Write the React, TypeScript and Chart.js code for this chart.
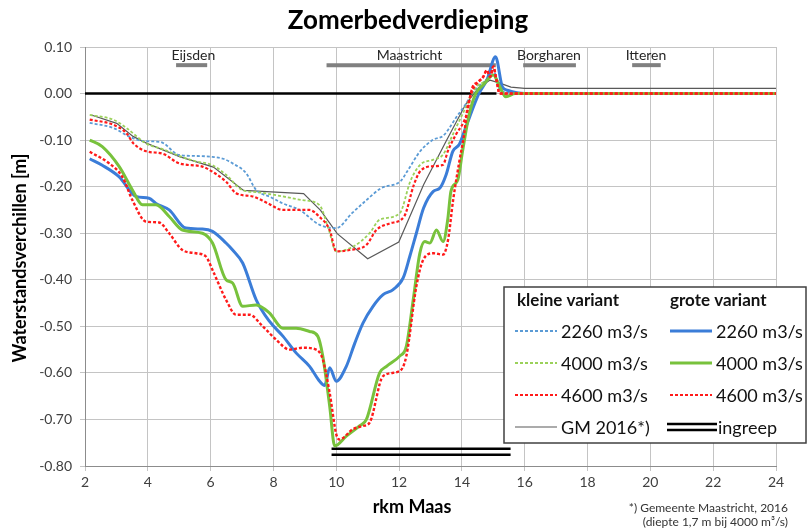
import React, { useEffect, useRef } from "react";
import { Chart, registerables } from "chart.js";
Chart.register(...registerables);

const FONT = "Lato, 'Open Sans', 'DejaVu Sans', sans-serif";

// ---- data (rkm Maas -> waterstandsverschil [m]) ----
const kleine2260Km = [2.15, 2.9, 3.4, 3.85, 4.4, 5.0, 5.5, 6.06, 6.4, 6.7, 7.13, 7.45, 7.9, 8.3, 8.83, 9.47, 10.0, 10.5, 10.96, 11.43, 12.05, 12.26, 12.67, 13.09, 13.4, 13.61, 13.81, 14.12, 14.33, 14.6, 14.8, 15.0, 15.2, 15.5, 16, 18, 20, 22, 24];
const kleine2260 = [-0.063, -0.074, -0.092, -0.102, -0.104, -0.132, -0.134, -0.136, -0.14, -0.15, -0.171, -0.207, -0.222, -0.236, -0.25, -0.282, -0.289, -0.257, -0.229, -0.203, -0.188, -0.167, -0.124, -0.099, -0.091, -0.073, -0.052, -0.023, -0.001, 0.02, 0.03, 0.05, 0.01, 0.002, 0.0, 0.0, 0.0, 0.0, 0.0];

const kleine4000Km = [2.15, 2.9, 3.32, 3.94, 4.5, 5.0, 5.5, 6.06, 6.5, 7.0, 7.5, 8.3, 8.94, 9.47, 9.75, 10.0, 10.53, 11.06, 11.38, 12.02, 12.36, 12.67, 13.09, 13.4, 13.71, 14.12, 14.44, 14.7, 15.0, 15.2, 15.4, 15.7, 16, 18, 20, 22, 24];
const kleine4000 = [-0.046, -0.056, -0.074, -0.107, -0.12, -0.134, -0.145, -0.154, -0.175, -0.207, -0.212, -0.221, -0.229, -0.24, -0.29, -0.339, -0.329, -0.3, -0.271, -0.257, -0.188, -0.153, -0.142, -0.131, -0.088, -0.03, 0.013, 0.025, 0.04, 0.02, -0.005, 0.0, 0.0, 0.0, 0.0, 0.0, 0.0];

const kleine4600Km = [2.15, 2.9, 3.32, 3.53, 3.95, 4.47, 5.0, 5.74, 6.06, 6.5, 6.81, 7.34, 7.8, 8.3, 8.83, 9.15, 9.47, 9.79, 10.0, 10.43, 10.96, 11.28, 11.7, 12.16, 12.47, 12.67, 13.09, 13.4, 13.55, 13.81, 14.07, 14.18, 14.33, 14.52, 14.68, 14.79, 14.9, 15.0, 15.1, 15.2, 15.5, 16, 18, 20, 22, 24];
const kleine4600 = [-0.056, -0.067, -0.085, -0.106, -0.124, -0.129, -0.15, -0.157, -0.168, -0.19, -0.214, -0.221, -0.235, -0.25, -0.25, -0.25, -0.265, -0.293, -0.339, -0.336, -0.325, -0.293, -0.279, -0.264, -0.196, -0.167, -0.156, -0.153, -0.124, -0.088, -0.059, -0.037, 0.013, 0.025, 0.036, 0.05, 0.036, 0.058, 0.029, 0.0, 0.0, 0.0, 0.0, 0.0, 0.0, 0.0];

const gm2016Km = [2.2, 3.01, 3.53, 3.97, 5.03, 6.09, 7.05, 8.96, 9.5, 10.03, 11.0, 11.99, 12.78, 13.5, 14.12, 14.54, 14.9, 15.23, 15.56, 16.0, 24];
const gm2016 = [-0.046, -0.064, -0.092, -0.107, -0.136, -0.158, -0.208, -0.215, -0.251, -0.301, -0.355, -0.319, -0.196, -0.102, -0.023, 0.013, 0.029, 0.022, 0.014, 0.011, 0.011];

const grote2260Km = [2.15, 2.55, 3.09, 3.62, 4.04, 4.26, 4.68, 5.21, 5.74, 6.06, 6.49, 6.7, 7.02, 7.45, 7.87, 8.3, 8.72, 9.15, 9.47, 9.63, 9.79, 10.0, 10.32, 10.59, 10.85, 11.17, 11.49, 11.81, 12.13, 12.34, 12.55, 12.78, 13.09, 13.3, 13.5, 13.71, 13.92, 14.12, 14.44, 14.54, 14.8, 15.07, 15.29, 15.45, 16, 18, 20, 22, 24];
const grote2260 = [-0.14, -0.154, -0.179, -0.221, -0.225, -0.236, -0.25, -0.289, -0.291, -0.296, -0.321, -0.336, -0.364, -0.443, -0.489, -0.521, -0.557, -0.586, -0.618, -0.627, -0.589, -0.618, -0.586, -0.536, -0.493, -0.457, -0.432, -0.421, -0.396, -0.35, -0.3, -0.246, -0.21, -0.203, -0.174, -0.124, -0.109, -0.073, -0.016, 0.0, 0.03, 0.079, 0.014, 0.007, 0.0, 0.0, 0.0, 0.0, 0.0];

const grote4000Km = [2.15, 2.55, 3.09, 3.51, 3.83, 4.26, 4.68, 5.1, 5.74, 6.06, 6.49, 6.7, 7.02, 7.45, 7.87, 8.3, 8.72, 9.15, 9.41, 9.57, 9.79, 9.95, 10.32, 10.74, 10.96, 11.38, 11.6, 12.02, 12.23, 12.45, 12.66, 12.82, 12.98, 13.19, 13.4, 13.55, 13.65, 13.87, 14.02, 14.23, 14.44, 14.7, 15.0, 15.2, 15.4, 15.7, 16, 18, 20, 22, 24];
const grote4000 = [-0.1, -0.114, -0.157, -0.207, -0.239, -0.239, -0.264, -0.293, -0.3, -0.321, -0.4, -0.407, -0.457, -0.454, -0.471, -0.504, -0.504, -0.511, -0.521, -0.564, -0.671, -0.757, -0.736, -0.714, -0.7, -0.6, -0.586, -0.564, -0.543, -0.443, -0.343, -0.318, -0.321, -0.293, -0.318, -0.27, -0.21, -0.185, -0.124, -0.045, 0.0, 0.02, 0.04, 0.015, -0.007, 0.0, 0.0, 0.0, 0.0, 0.0, 0.0];

const grote4600Km = [2.15, 2.77, 3.19, 3.51, 3.94, 4.36, 4.68, 5.1, 5.53, 5.85, 6.06, 6.49, 6.81, 7.23, 7.66, 8.09, 8.51, 8.94, 9.36, 9.57, 9.79, 10.0, 10.1, 10.53, 10.85, 11.06, 11.49, 12.02, 12.23, 12.55, 12.77, 13.09, 13.4, 13.56, 13.72, 13.92, 14.07, 14.18, 14.33, 14.52, 14.68, 14.79, 14.9, 15.0, 15.1, 15.2, 15.5, 16, 18, 20, 22, 24];
const grote4600 = [-0.125, -0.15, -0.179, -0.229, -0.275, -0.277, -0.3, -0.336, -0.343, -0.35, -0.379, -0.443, -0.475, -0.475, -0.5, -0.529, -0.55, -0.546, -0.55, -0.571, -0.643, -0.732, -0.743, -0.721, -0.714, -0.707, -0.607, -0.596, -0.564, -0.414, -0.357, -0.343, -0.346, -0.314, -0.229, -0.145, -0.088, -0.03, 0.006, 0.025, 0.036, 0.05, 0.036, 0.058, 0.029, 0.0, 0.0, 0.0, 0.0, 0.0, 0.0, 0.0];

const zeroLineKm = [2, 15.1];
const zeroLine = [0, 0];

const ingreepKm = [9.85, 15.55];
const ingreepUpper = [-0.763, -0.763];
const ingreepLower = [-0.776, -0.776];

const placeNames = ["Eijsden", "Maastricht", "Borgharen", "Itteren"];
const placeLabelKm = [5.45, 12.33, 16.77, 19.86];
const placeBarFrom = [4.9, 9.69, 15.95, 19.42];
const placeBarTo = [5.89, 15.08, 17.63, 20.33];
const placeBarLevel = 0.061;

const xTicks = { min: 2, max: 24, step: 2 };
const yTicks = { min: -0.8, max: 0.1, step: 0.1 };

const legendLeft = ["2260 m3/s", "4000 m3/s", "4600 m3/s", "GM 2016*)"];
const legendRight = ["2260 m3/s", "4000 m3/s", "4600 m3/s", "ingreep"];

function pts(xs: number[], ys: number[]) {
  return xs.map((x, i) => ({ x, y: ys[i] }));
}

const C_BLUE_L = "#5b9bd5";
const C_GREEN_L = "#9bd15a";
const C_RED = "#ff1a1a";
const C_GRAY = "#595959";
const C_BLUE = "#3b7dd8";
const C_GREEN = "#78c23c";

export default function App() {
  const ref = useRef<HTMLCanvasElement>(null);
  useEffect(() => {
    const overlay = {
      id: "overlay",
      afterDraw(chart: any) {
        const ctx = chart.ctx as CanvasRenderingContext2D;
        const xs = chart.scales.x;
        ctx.save();
        // title
        ctx.fillStyle = "#000";
        ctx.textAlign = "center";
        ctx.textBaseline = "middle";
        ctx.font = `bold 26px ${FONT}`;
        ctx.fillText("Zomerbedverdieping", 408, 21);
        // axis titles
        ctx.font = `bold 18px ${FONT}`;
        ctx.fillText("rkm Maas", 412, 507);
        ctx.save();
        ctx.translate(20, 258);
        ctx.rotate(-Math.PI / 2);
        ctx.fillText("Waterstandsverchillen [m]", 0, 0);
        ctx.restore();
        // place names
        ctx.font = `14px ${FONT}`;
        ctx.fillStyle = "#262626";
        placeNames.forEach((n, i) => {
          ctx.fillText(n, xs.getPixelForValue(placeLabelKm[i]), 55);
        });
        // footnote
        ctx.font = `12px ${FONT}`;
        ctx.fillStyle = "#333";
        ctx.textAlign = "right";
        ctx.fillText("*) Gemeente Maastricht, 2016", 788, 508);
        ctx.fillText("(diepte 1,7 m bij 4000 m\u00b3/s)", 788, 522);
        // legend box
        const bx = 504, by = 287, bw = 302, bh = 156;
        ctx.fillStyle = "#fff";
        ctx.fillRect(bx, by, bw, bh);
        ctx.strokeStyle = "#404040";
        ctx.lineWidth = 1.5;
        ctx.strokeRect(bx, by, bw, bh);
        ctx.textAlign = "left";
        ctx.fillStyle = "#111";
        ctx.font = `bold 17px ${FONT}`;
        ctx.fillText("kleine variant", 517, 301);
        ctx.fillText("grote variant", 670, 301);
        const rows = [331, 363, 395, 427];
        const leftStyles = [
          { c: C_BLUE_L, w: 1.8, d: [3, 2] },
          { c: C_GREEN_L, w: 1.8, d: [3, 2] },
          { c: C_RED, w: 2, d: [3, 2] },
          { c: C_GRAY, w: 1.2, d: [] as number[] },
        ];
        const rightStyles = [
          { c: C_BLUE, w: 3, d: [] as number[] },
          { c: C_GREEN, w: 3, d: [] as number[] },
          { c: C_RED, w: 2, d: [3, 2] },
        ];
        ctx.font = `18px ${FONT}`;
        rows.forEach((y, i) => {
          const ls = leftStyles[i];
          ctx.beginPath();
          ctx.setLineDash(ls.d);
          ctx.strokeStyle = ls.c;
          ctx.lineWidth = ls.w;
          ctx.moveTo(515, y);
          ctx.lineTo(557, y);
          ctx.stroke();
          ctx.setLineDash([]);
          ctx.fillStyle = "#111";
          ctx.fillText(legendLeft[i], 561, y + 1);
          if (i < 3) {
            const rs = rightStyles[i];
            ctx.beginPath();
            ctx.setLineDash(rs.d);
            ctx.strokeStyle = rs.c;
            ctx.lineWidth = rs.w;
            ctx.moveTo(670, y);
            ctx.lineTo(712, y);
            ctx.stroke();
            ctx.setLineDash([]);
          } else {
            ctx.strokeStyle = "#000";
            ctx.lineWidth = 2.5;
            [y - 3, y + 3].forEach((yy) => {
              ctx.beginPath();
              ctx.moveTo(667, yy);
              ctx.lineTo(717, yy);
              ctx.stroke();
            });
          }
          ctx.fillStyle = "#111";
          ctx.fillText(legendRight[i], i < 3 ? 716 : 718, y + 1);
        });
        ctx.restore();
      },
    };

    const lineDs = (label: string, xs: number[], ys: number[], color: string, width: number, dash: number[], order: number, smooth = true) => ({
      label,
      data: pts(xs, ys),
      borderColor: color,
      backgroundColor: color,
      borderWidth: width,
      borderDash: dash,
      pointRadius: 0,
      fill: false,
      order,
      tension: smooth ? 0.3 : 0,
      cubicInterpolationMode: smooth ? "monotone" : "default",
      borderCapStyle: "butt",
    });

    const datasets: any[] = [
      lineDs("zero", zeroLineKm, zeroLine, "#000", 2.5, [], 20, false),
      lineDs("ingreep1", ingreepKm, ingreepUpper, "#000", 2.5, [], 19, false),
      lineDs("ingreep2", ingreepKm, ingreepLower, "#000", 2.5, [], 19, false),
      ...placeNames.map((n, i) =>
        lineDs(n, [placeBarFrom[i], placeBarTo[i]], [placeBarLevel, placeBarLevel], "#808080", 4, [], 18, false)
      ),
      lineDs("GM 2016*)", gm2016Km, gm2016, C_GRAY, 1.2, [], 7, false),
      lineDs("kleine 2260", kleine2260Km, kleine2260, C_BLUE_L, 1.8, [3, 2], 6),
      lineDs("kleine 4000", kleine4000Km, kleine4000, C_GREEN_L, 1.8, [3, 2], 5),
      lineDs("grote 2260", grote2260Km, grote2260, C_BLUE, 3, [], 4),
      lineDs("grote 4000", grote4000Km, grote4000, C_GREEN, 3, [], 3),
      lineDs("kleine 4600", kleine4600Km, kleine4600, C_RED, 2.2, [3, 2], 2),
      lineDs("grote 4600", grote4600Km, grote4600, C_RED, 2.4, [3, 2], 1),
    ];

    const chart = new Chart(ref.current as HTMLCanvasElement, {
      type: "line",
      data: { datasets },
      options: {
        responsive: false,
        animation: false,
        events: [],
        layout: { padding: { top: 47, right: 33, left: 0, bottom: 0 } },
        plugins: { legend: { display: false }, tooltip: { enabled: false }, title: { display: false } },
        scales: {
          x: {
            type: "linear",
            min: xTicks.min,
            max: xTicks.max,
            ticks: {
              stepSize: xTicks.step,
              color: "#404040",
              font: { family: FONT, size: 14 },
              padding: 3,
              maxRotation: 0,
              callback: (v: any) => String(v),
            },
            grid: { color: "#c4c4c4", lineWidth: 1, tickLength: 5, drawTicks: true },
            border: { color: "#8c8c8c" },
            afterFit: (s: any) => {
              s.height = 64;
            },
          },
          y: {
            type: "linear",
            min: yTicks.min,
            max: yTicks.max,
            ticks: {
              stepSize: yTicks.step,
              color: "#404040",
              font: { family: FONT, size: 14 },
              padding: 8,
              callback: (v: any) => (Math.abs(Number(v)) < 1e-9 ? "0.00" : Number(v).toFixed(2)),
            },
            grid: { color: "#c4c4c4", lineWidth: 1, tickLength: 5, drawTicks: true },
            border: { color: "#8c8c8c" },
            afterFit: (s: any) => {
              s.width = 85;
            },
          },
        },
      },
      plugins: [overlay],
    } as any);
    return () => chart.destroy();
  }, []);

  return (
    <div style={{ position: "fixed", left: 0, top: 0, width: 809, height: 530, background: "#fff" }}>
      <canvas ref={ref} width={809} height={530} style={{ display: "block" }} />
    </div>
  );
}
